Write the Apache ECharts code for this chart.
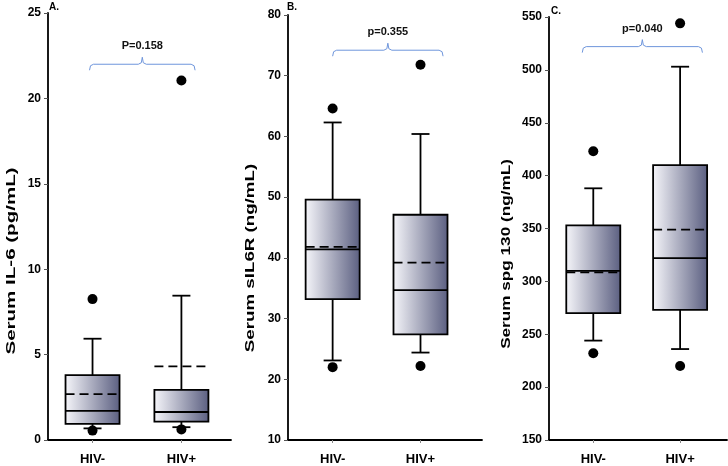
<!DOCTYPE html>
<html><head><meta charset="utf-8">
<script src="https://cdn.jsdelivr.net/npm/echarts@6/dist/echarts.min.js"></script>
<style>html,body{margin:0;padding:0;background:#fff}#c{width:728px;height:466px}</style>
</head><body><div id="c"></div>
<script>
const groups = ['HIV-', 'HIV+'];
// Panel A: Serum IL-6 (pg/mL)
const il6Low = [0.68, 0.75];
const il6Q1 = [0.94, 1.07];
const il6Median = [1.70, 1.64];
const il6Mean = [2.69, 4.31];
const il6Q3 = [3.80, 2.93];
const il6High = [5.93, 8.45];
const il6Outliers = [[1, 8.25], [1, 0.55], [2, 21.05], [2, 0.62]];
// Panel B: Serum sIL6R (ng/mL)
const sil6rLow = [23.1, 24.4];
const sil6rQ1 = [33.2, 27.4];
const sil6rMedian = [41.4, 34.7];
const sil6rMean = [41.8, 39.2];
const sil6rQ3 = [49.6, 47.1];
const sil6rHigh = [62.3, 60.4];
const sil6rOutliers = [[1, 64.6], [1, 22.0], [2, 71.8], [2, 22.2]];
// Panel C: Serum spg 130 (ng/mL)
const gp130Low = [244, 236];
const gp130Q1 = [270, 273];
const gp130Median = [310, 322];
const gp130Mean = [308.5, 349];
const gp130Q3 = [353, 410];
const gp130High = [388, 503];
const gp130Outliers = [[1, 423], [1, 232], [2, 544], [2, 220]];

const yTitles = ['Serum IL-6 (pg/mL)', 'Serum sIL6R (ng/mL)', 'Serum spg 130 (ng/mL)'];
const panelLetters = ['A.', 'B.', 'C.'];
const pLabels = ['P=0.158', 'p=0.355', 'p=0.040'];
const pBracketY = [22, 74.2, 522];
const yMins = [0, 10, 150];
const yMaxs = [25, 80, 550];
const ySteps = [5, 10, 50];

const FONT = '"Liberation Sans", Arial, sans-serif';
const panels = [
  {left: 48, width: 183, top: 13, height: 428, xmin: 0.499, xmax: 2.558, bx: [0.966, 2.154], tx: 11, ty: 261, ts: 1.58, lx: 49, ly: 2},
  {left: 288, width: 194, top: 15, height: 426, xmin: 0.492, xmax: 2.70, bx: [1.0, 2.257], tx: 250, ty: 258, ts: 1.44, lx: 287, ly: 2},
  {left: 549, width: 178, top: 17, height: 425, xmin: 0.49, xmax: 2.54, bx: [0.873, 2.257], tx: 506, ty: 254, ts: 1.32, lx: 551, ly: 6}
];
const boxSets = [
  [il6Low, il6Q1, il6Median, il6Mean, il6Q3, il6High],
  [sil6rLow, sil6rQ1, sil6rMedian, sil6rMean, sil6rQ3, sil6rHigh],
  [gp130Low, gp130Q1, gp130Median, gp130Mean, gp130Q3, gp130High]
];
const outlierSets = [il6Outliers, sil6rOutliers, gp130Outliers];

function boxRender(params, api) {
  const x = api.value(0);
  const low = api.value(1), q1 = api.value(2), med = api.value(3), mean = api.value(4), q3 = api.value(5), high = api.value(6);
  const cx = api.coord([x, q1])[0];
  const y = v => api.coord([x, v])[1];
  const hw = 27, cw = 9, lw = 1.8;
  const st = {stroke: '#000', lineWidth: lw};
  return {type: 'group', children: [
    {type: 'line', shape: {x1: cx, y1: y(q3), x2: cx, y2: y(high)}, style: st},
    {type: 'line', shape: {x1: cx - cw, y1: y(high), x2: cx + cw, y2: y(high)}, style: st},
    {type: 'line', shape: {x1: cx, y1: y(q1), x2: cx, y2: y(low)}, style: st},
    {type: 'line', shape: {x1: cx - cw, y1: y(low), x2: cx + cw, y2: y(low)}, style: st},
    {type: 'rect', shape: {x: cx - hw, y: y(q3), width: 2 * hw, height: y(q1) - y(q3)},
      style: {fill: new echarts.graphic.LinearGradient(0, 0, 1, 0, [{offset: 0, color: '#f7f7fb'}, {offset: 1, color: '#5a5e80'}]), stroke: '#000', lineWidth: lw}},
    {type: 'line', shape: {x1: cx - hw, y1: y(med), x2: cx + hw, y2: y(med)}, style: st},
    {type: 'line', shape: {x1: cx - hw, y1: y(mean), x2: cx + hw, y2: y(mean)}, style: {stroke: '#000', lineWidth: lw, lineDash: [9, 5]}}
  ]};
}
function bracketRender(i) {
  return function (params, api) {
    const p = panels[i];
    const yv = api.value(1);
    const a = api.coord([p.bx[0], yv]);
    const x0 = a[0], yy = a[1];
    const x1 = api.coord([p.bx[1], yv])[0];
    const xc = (x0 + x1) / 2;
    return {type: 'group', children: [
      {type: 'polyline', shape: {points: [[x0, yy + 6], [x0 + 1, yy + 1.5], [x0 + 4, yy], [xc - 4, yy], [xc - 1, yy - 1.5], [xc, yy - 7], [xc + 1, yy - 1.5], [xc + 4, yy], [x1 - 4, yy], [x1 - 1, yy + 1.5], [x1, yy + 6]]},
        style: {stroke: '#6f96dc', lineWidth: 1, fill: null}},
      {type: 'text', x: xc, y: yy - 18, style: {text: pLabels[i], fill: '#111', font: 'bold 11px ' + FONT, align: 'center', verticalAlign: 'middle'}}
    ]};
  };
}

const grid = [], xAxis = [], yAxis = [], series = [], graphic = [];
panels.forEach((p, i) => {
  grid.push({left: p.left, top: p.top, width: p.width, height: p.height});
  xAxis.push({type: 'value', gridIndex: i, min: p.xmin, max: p.xmax,
    splitLine: {show: false},
    axisLine: {lineStyle: {color: '#000', width: 1.8}},
    axisTick: {show: true, customValues: [1, 2], length: 3, lineStyle: {color: '#888'}},
    axisLabel: {customValues: [1, 2], formatter: v => groups[Math.round(v) - 1], margin: 13,
      color: '#000', fontWeight: 'bold', fontSize: 13, fontFamily: FONT}});
  yAxis.push({type: 'value', gridIndex: i, min: yMins[i], max: yMaxs[i], interval: ySteps[i],
    splitLine: {show: false},
    axisLine: {show: true, lineStyle: {color: '#000', width: 1.8}},
    axisTick: {show: true, length: 4, lineStyle: {color: '#555'}},
    axisLabel: {margin: 7, color: '#000', fontWeight: 'bold', fontSize: 12, fontFamily: FONT}});
  const b = boxSets[i];
  series.push({type: 'custom', xAxisIndex: i, yAxisIndex: i, renderItem: boxRender, silent: true,
    data: groups.map((g, k) => [k + 1, b[0][k], b[1][k], b[2][k], b[3][k], b[4][k], b[5][k]])});
  series.push({type: 'scatter', xAxisIndex: i, yAxisIndex: i, symbolSize: 10, silent: true,
    itemStyle: {color: '#000', opacity: 1}, data: outlierSets[i]});
  series.push({type: 'custom', xAxisIndex: i, yAxisIndex: i, renderItem: bracketRender(i), silent: true,
    data: [[p.bx[0], pBracketY[i]]]});
  graphic.push({type: 'text', x: p.tx, y: p.ty, rotation: Math.PI / 2, scaleX: p.ts,
    style: {text: yTitles[i], font: 'bold 13px ' + FONT, fill: '#000', align: 'center', verticalAlign: 'middle'}});
  graphic.push({type: 'text', x: p.lx, y: p.ly, style: {text: panelLetters[i], font: 'bold 10px ' + FONT, fill: '#000'}});
});

const chart = echarts.init(document.getElementById('c'), null, {renderer: 'canvas'});
chart.setOption({animation: false, backgroundColor: '#fff', grid, xAxis, yAxis, series, graphic});
</script>
</body></html>
